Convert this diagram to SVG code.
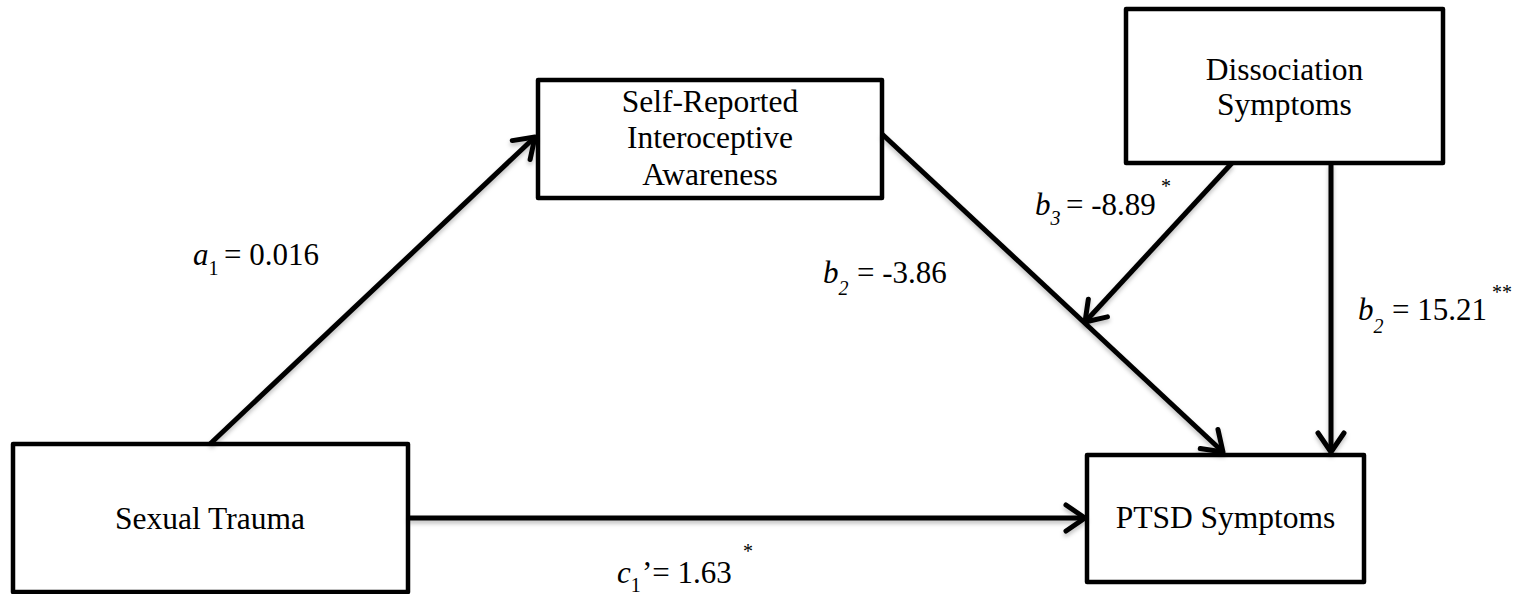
<svg xmlns="http://www.w3.org/2000/svg" width="1522" height="594" viewBox="0 0 1522 594">
<defs>
<style>
.box{fill:#fff;stroke:#000;stroke-width:4.5;stroke-linejoin:round}
.t{font-family:"Liberation Serif","Times New Roman",serif;font-size:31.5px;fill:#000}
.lbl{font-family:"Liberation Serif","Times New Roman",serif;font-size:31px;fill:#000}
.edge{stroke:#000;stroke-width:5;fill:none;marker-end:url(#arr);filter:url(#sh)}
.i{font-style:italic}
.sub{font-size:20px}
.sup{font-size:20px}
</style>
<filter id="sh" filterUnits="userSpaceOnUse" x="0" y="0" width="1522" height="594">
<feDropShadow dx="0" dy="3" stdDeviation="2" flood-color="#000" flood-opacity="0.25"/>
</filter>
<marker id="arr" markerUnits="userSpaceOnUse" markerWidth="40" markerHeight="40" viewBox="-30 -20 40 40" refX="0" refY="0" orient="auto">
<path d="M-19,-13 L0,0 L-19,13" fill="none" stroke="#000" stroke-width="5" stroke-linecap="round" stroke-linejoin="round"/>
</marker>
</defs>

<g id="node-sexual-trauma">
<rect class="box" x="13" y="444" width="395" height="148"/>
<text class="t" x="210" y="529" text-anchor="middle">Sexual Trauma</text>
</g>

<g id="node-interoceptive">
<rect class="box" x="538" y="80" width="344" height="118"/>
<text class="t" x="710" y="112" text-anchor="middle">Self-Reported</text>
<text class="t" x="710" y="148" text-anchor="middle">Interoceptive</text>
<text class="t" x="710" y="185" text-anchor="middle">Awareness</text>
</g>

<g id="node-dissociation">
<rect class="box" x="1126" y="9" width="317" height="154"/>
<text class="t" x="1284.5" y="80" text-anchor="middle">Dissociation</text>
<text class="t" x="1284.5" y="115" text-anchor="middle">Symptoms</text>
</g>

<g id="node-ptsd">
<rect class="box" x="1087" y="455" width="277" height="127"/>
<text class="t" x="1225.5" y="528" text-anchor="middle">PTSD Symptoms</text>
</g>

<g id="connectors">
<line class="edge" x1="210" y1="444" x2="535" y2="137"/>
<line class="edge" x1="408" y1="518" x2="1085" y2="518"/>
<line class="edge" x1="882" y1="134" x2="1223" y2="452"/>
<line class="edge" x1="1232" y1="163" x2="1085" y2="322"/>
<line class="edge" x1="1331" y1="163" x2="1331" y2="452"/>
</g>

<g id="labels">
<text class="lbl" x="193" y="265"><tspan class="i">a</tspan><tspan class="sub" dy="10">1</tspan><tspan x="224" dy="-10">= 0.016</tspan></text>
<text class="lbl" x="823" y="283"><tspan class="i">b</tspan><tspan class="sub i" dy="12">2</tspan><tspan x="857" dy="-12">= -3.86</tspan></text>
<text class="lbl" x="1035" y="215"><tspan class="i">b</tspan><tspan class="sub i" dy="10">3</tspan><tspan x="1066" dy="-10">= -8.89</tspan><tspan class="sup" x="1161" y="193">*</tspan></text>
<text class="lbl" x="1358" y="320"><tspan class="i">b</tspan><tspan class="sub i" dy="13">2</tspan><tspan x="1392" dy="-13">= 15.21</tspan><tspan class="sup" x="1492" y="299">**</tspan></text>
<text class="lbl" x="617" y="583"><tspan class="i">c</tspan><tspan class="sub" dy="9">1</tspan><tspan x="642" dy="-9">’= 1.63</tspan><tspan class="sup" x="743" y="558">*</tspan></text>
</g>
</svg>
